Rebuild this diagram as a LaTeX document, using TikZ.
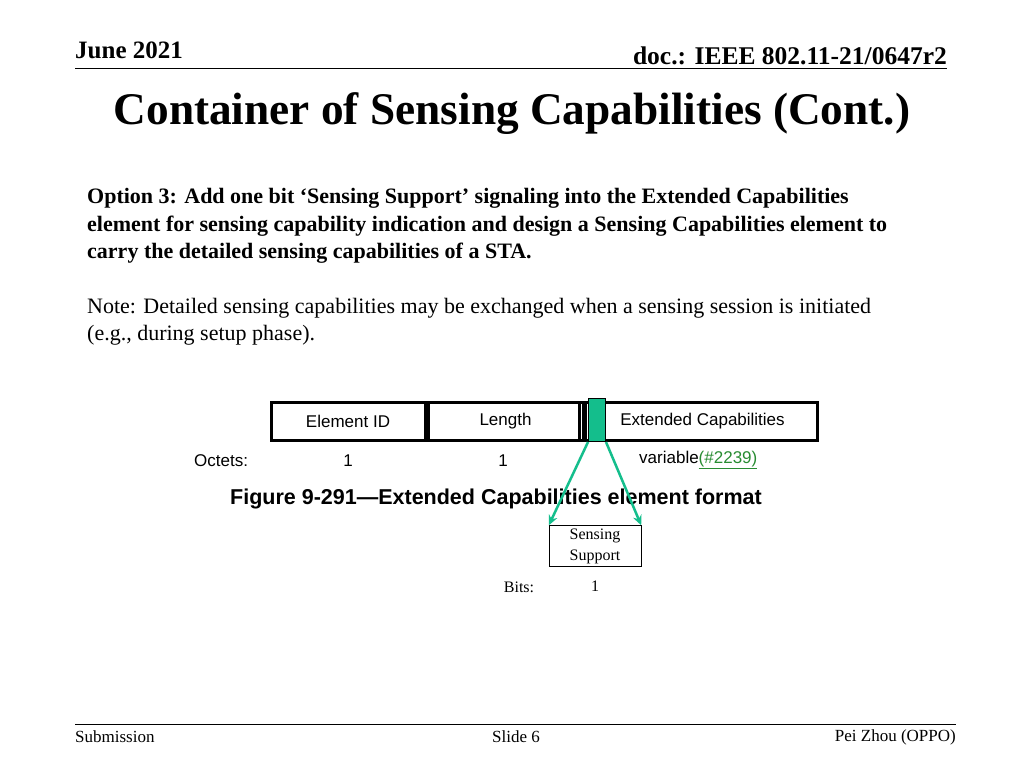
\documentclass[tikz,border=0pt]{standalone}
\usepackage{fontspec}
\setmainfont{Liberation Serif}
\newfontfamily\arial{Liberation Sans}
\usetikzlibrary{arrows.meta,positioning,calc}
\definecolor{tealgreen}{RGB}{20,190,140}
\definecolor{linkgreen}{RGB}{40,140,50}

\tikzset{
  field/.style={draw,line width=3pt,minimum height=38pt,inner sep=0pt,font=\arial\fontsize{17}{20}\selectfont},
  figtext/.style={inner sep=0pt,font=\arial\fontsize{17}{20}\selectfont},
  body/.style={anchor=west,inner sep=0pt,font=\fontsize{22}{26}\selectfont},
  foot/.style={inner sep=0pt,font=\fontsize{17}{20}\selectfont}
}

\begin{document}
\begin{tikzpicture}[x=1pt,y=-1pt]
        \useasboundingbox[fill=white] (0,0) rectangle (1024,768);

        % header
        \node[anchor=west,inner sep=0pt,font=\bfseries\fontsize{25}{28}\selectfont] (month) at (75,50) {June 2021};
        \node[anchor=east,inner sep=0pt,font=\bfseries\fontsize{25.5}{28}\selectfont] (doc) at (947,56) {doc.: IEEE 802.11-21/0647r2};
        \draw[line width=0.8pt] (75,68) -- (947,68);
        \node[inner sep=0pt,font=\bfseries\fontsize{45.3}{52}\selectfont] (title) at (512,114) {Container of Sensing Capabilities (Cont.)};

        % text
        \node[body,font=\bfseries\fontsize{22}{26}\selectfont] (opt1) at (87,198) {Option 3: Add one bit ‘Sensing Support’ signaling into the Extended Capabilities};
        \node[body,font=\bfseries\fontsize{22}{26}\selectfont] (opt2) at (87,226) {element for sensing capability indication and design a Sensing Capabilities element to};
        \node[body,font=\bfseries\fontsize{22}{26}\selectfont] (opt3) at (87,253) {carry the detailed sensing capabilities of a STA.};
        \node[body] (note1) at (87,308) {Note: Detailed sensing capabilities may be exchanged when a sensing session is initiated};
        \node[body] (note2) at (87,335) {(e.g., during setup phase).};

        % element format
        \node[field,minimum width=154pt] (eid) at (348,421) {Element ID};
        \node[field,minimum width=155pt,right=0pt of eid] (len) {Length};
        \node[field,minimum width=238pt,anchor=east] (ext) at (819,421) {\hspace*{8pt}Extended Capabilities};
        \draw[line width=1.5pt] (586,402) -- (586,440);
        \node[draw=black,fill=tealgreen,line width=1pt,minimum width=17pt,minimum height=43pt,inner sep=0pt] (bit) at (597,420) {};

        \node[figtext,anchor=west] (oct) at (194,461) {Octets:};
        \node[figtext] (o1) at (348,461) {1};
        \node[figtext] (o2) at (503,461) {1};
        \node[figtext,anchor=west] (o3) at (639,460) {variable{\color{linkgreen}\underline{(\#2239)}}};
        \node[figtext,font=\arial\bfseries\fontsize{21.5}{24}\selectfont] (cap) at (496,499) {Figure 9-291—Extended Capabilities element format};

        % sensing support
        \node[draw,minimum width=92pt,minimum height=41pt,inner sep=0pt,align=center,font=\fontsize{16}{21}\selectfont] (ss) at (595,546) {Sensing\\Support};
        \draw[-{Stealth[length=10pt,width=9pt]},tealgreen,line width=2.5pt] (bit.south west) -- (ss.north west);
        \draw[-{Stealth[length=10pt,width=9pt]},tealgreen,line width=2.5pt] (bit.south east) -- (ss.north east);
        \node[foot,font=\fontsize{16}{20}\selectfont] (bits) at (519,587) {Bits:};
        \node[foot,font=\fontsize{16}{20}\selectfont] (b1) at (595,586) {1};

        % footer
        \draw[line width=0.8pt] (75,724) -- (956,724);
        \node[foot,anchor=west] (sub) at (75,737) {Submission};
        \node[foot] (slide) at (516,737) {Slide 6};
        \node[foot,anchor=east] (auth) at (956,737) {Pei Zhou (OPPO)};
\end{tikzpicture}
\end{document}
